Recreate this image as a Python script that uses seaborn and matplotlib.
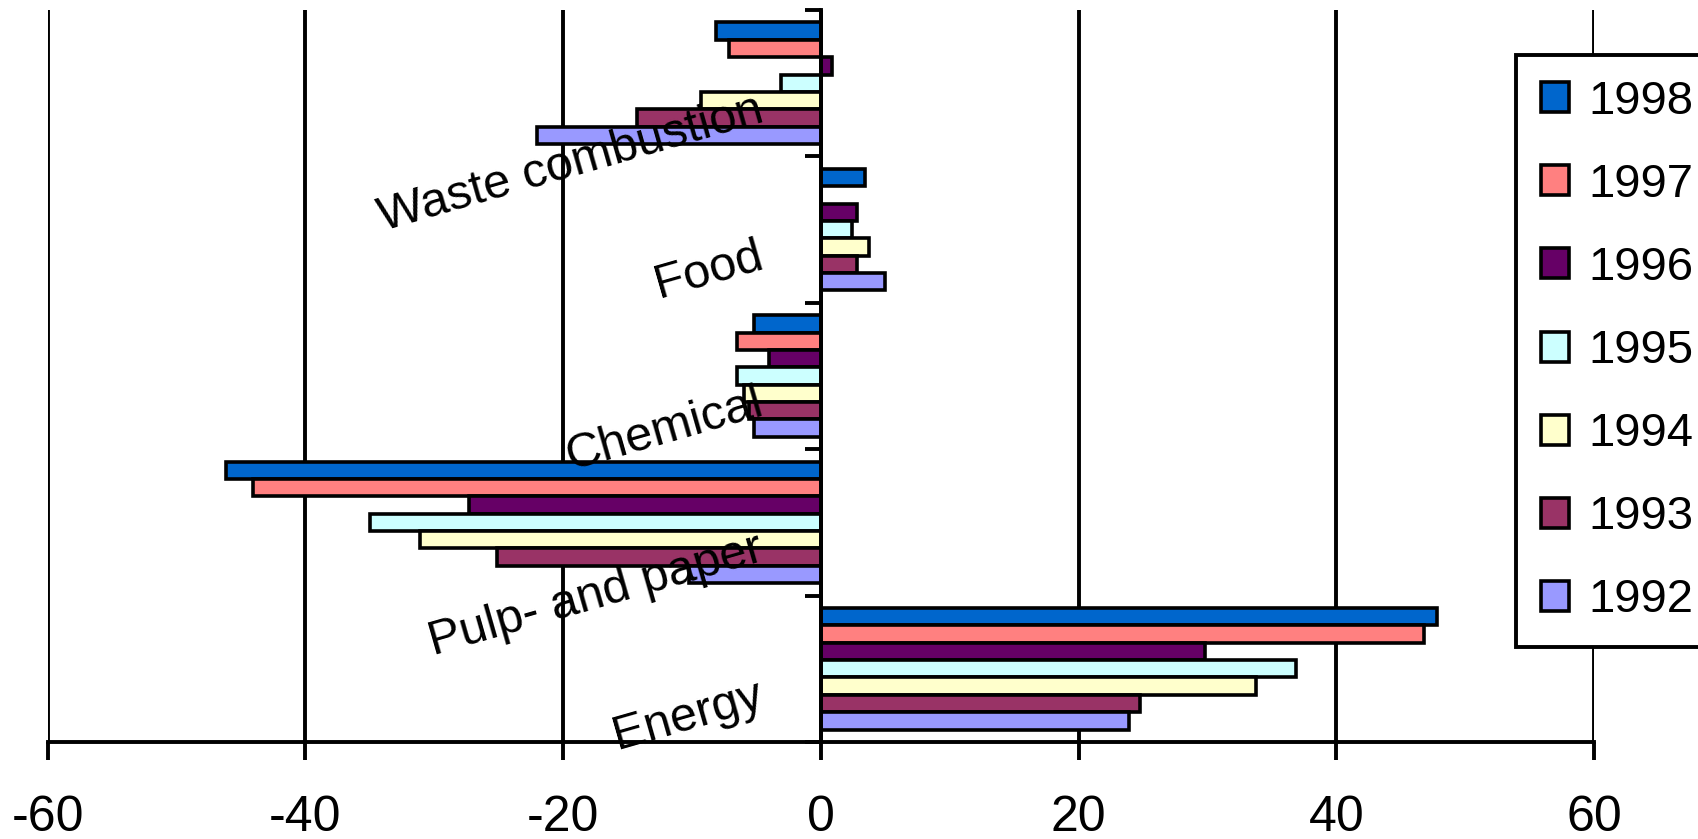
import numpy as np
import pandas as pd
import matplotlib
matplotlib.use("Agg")
import matplotlib.pyplot as plt
import seaborn as sns

# Sectors (top to bottom) and years (top to bottom inside each group)
categories = ["Waste combustion", "Food", "Chemical", "Pulp- and paper", "Energy"]
years = ["1998", "1997", "1996", "1995", "1994", "1993", "1992"]

# Change per sector, one list per year (same order as categories)
v1998 = [-8.1, 3.4, -5.2, -46.2, 47.8]
v1997 = [-7.1, np.nan, -6.5, -44.1, 46.8]
v1996 = [0.9, 2.8, -4.0, -27.3, 29.8]
v1995 = [-3.1, 2.4, -6.5, -35.0, 36.9]
v1994 = [-9.3, 3.7, -6.0, -31.1, 33.8]
v1993 = [-14.3, 2.8, -5.6, -25.1, 24.8]
v1992 = [-22.0, 5.0, -5.2, -10.2, 23.9]
series = [v1998, v1997, v1996, v1995, v1994, v1993, v1992]

x_ticks = [-60, -40, -20, 0, 20, 40, 60]

colors = ["#0066CC", "#FF8080", "#660066", "#CCFFFF", "#FFFFCC", "#993366", "#9999FF"]
palette = dict(zip(years, colors))

rows = []
for yr, vals in zip(years, series):
    for cat, v in zip(categories, vals):
        rows.append({"sector": cat, "year": yr, "value": v})
df = pd.DataFrame(rows).dropna()

sns.set_theme(style="white")
plt.rcParams["font.family"] = ["Liberation Sans", "DejaVu Sans"]
plt.rcParams["text.color"] = "black"
plt.rcParams["xtick.color"] = "black"
plt.rcParams["ytick.color"] = "black"

W, H = 1699, 839
fig = plt.figure(figsize=(W / 100, H / 100), dpi=100)
ax = fig.add_axes([47.7 / W, 1 - 742 / H, (1594 - 47.7) / W, (742 - 10) / H])

bar_lw = 2.6
sns.barplot(
    data=df, x="value", y="sector", hue="year",
    order=categories, hue_order=years, palette=palette,
    orient="h", width=0.83, saturation=1, errorbar=None,
    edgecolor="black", linewidth=bar_lw, ax=ax,
)

lw = 2.8
ax.set_axisbelow(True)
ax.set_xlim(x_ticks[0], x_ticks[-1])
ax.set_xticks(x_ticks)
ax.set_xticklabels([str(t) for t in x_ticks])
ax.xaxis.grid(True, color="black", linewidth=lw)
ax.yaxis.grid(False)
ax.tick_params(axis="x", direction="out", length=13, width=lw, pad=25,
               labelsize=36, colors="black", bottom=True)

# category boundaries as short ticks on the zero axis
bounds = np.arange(-0.5, len(categories), 1.0)
ax.set_yticks(bounds)
ax.set_yticklabels([""] * len(bounds))
ax.set_ylim(len(categories) - 0.5, -0.5)
ax.tick_params(axis="y", direction="out", length=11.5, width=lw, left=True)

ax.spines["top"].set_visible(False)
ax.spines["right"].set_visible(False)
ax.spines["left"].set_position(("data", 0))
for s in ("left", "bottom"):
    ax.spines[s].set_color("black")
    ax.spines[s].set_linewidth(lw)
ax.set_xlabel("")
ax.set_ylabel("")

# slanted sector names: rotated box hangs from its top-right corner
for i, cat in enumerate(categories):
    ax.text(-4.1, i + 0.03, cat, rotation=16, rotation_mode="default",
            ha="right", va="top", fontsize=35, color="black", zorder=6)

sns.move_legend(
    ax, "upper left", bbox_to_anchor=(1516 / W, 1 - 55 / H),
    bbox_transform=fig.transFigure, title=None, frameon=True,
    fancybox=False, edgecolor="black", framealpha=1, fontsize=34,
    borderpad=0.53, labelspacing=0.827, handlelength=0.6, handleheight=0.6,
    handletextpad=0.4, borderaxespad=0,
)
leg = ax.get_legend()
leg.get_frame().set_linewidth(lw)
for h in leg.legend_handles:
    h.set_edgecolor("black")
    h.set_linewidth(bar_lw)
for t in leg.get_texts():
    t.set_color("black")

fig.savefig("out.png", dpi=100)
